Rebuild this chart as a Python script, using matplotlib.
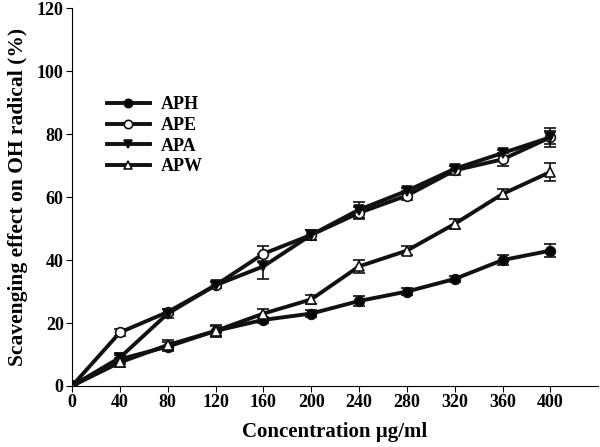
import matplotlib.pyplot as plt
from matplotlib.lines import Line2D

# Data
conc = [0, 40, 80, 120, 160, 200, 240, 280, 320, 360, 400]
aph = [0, 8.5, 12.5, 17.5, 21, 23, 27, 30, 34, 40, 43]
aph_err = [0.5, 1.5, 1.5, 1.5, 1, 1, 1.5, 1, 1, 1.5, 2]
ape = [0, 17, 23.5, 32, 42, 48, 55, 60.5, 68.5, 72, 79]
ape_err = [0.5, 1, 1, 1, 2.5, 1.5, 2, 1.5, 1.5, 2, 2]
apa = [0, 9, 23, 32, 38, 48, 56, 62, 69, 74, 79]
apa_err = [0.5, 1.5, 1.5, 1, 4, 1.5, 2.5, 1, 1, 1, 3]
apw = [0, 7.5, 13, 17.5, 23, 27.5, 38, 43, 51.5, 61, 68]
apw_err = [0.5, 1.5, 1.5, 2, 1.5, 1.5, 2, 1.5, 1.5, 1.5, 3]

plt.rcParams['font.family'] = ['Liberation Serif', 'DejaVu Serif']
plt.rcParams['font.weight'] = 'bold'

fig = plt.figure(figsize=(6, 4.47), dpi=100)
ax = fig.add_axes([0.12, 0.1365, 0.877, 0.845])

series = [
    ('APH', aph, aph_err, 'o', 'black'),
    ('APE', ape, ape_err, 'o', 'white'),
    ('APA', apa, apa_err, 'v', 'black'),
    ('APW', apw, apw_err, '^', 'white'),
]
handles = []
for name, vals, err, mk, fc in series:
    ax.errorbar(conc, vals, yerr=err, color='#111111', lw=2.8,
                marker=mk, markersize=7, markerfacecolor=fc,
                markeredgecolor='#111111', markeredgewidth=1.2,
                elinewidth=1.2, capsize=4, capthick=1.2)
    handles.append(Line2D([], [], color='#111111', lw=2.8, marker=mk,
                          markersize=6, markerfacecolor=fc,
                          markeredgecolor='#111111', markeredgewidth=1.2,
                          label=name))

ax.set_xlim(0, 440)
ax.set_ylim(0, 120)
ax.set_xticks(conc)
ax.set_yticks(range(0, 121, 20))
ax.spines['top'].set_visible(False)
ax.spines['right'].set_visible(False)
ax.tick_params(direction='out', length=4, width=0.8, labelsize=13, pad=2)
for lab in ax.get_xticklabels() + ax.get_yticklabels():
    lab.set_fontweight('bold')

ax.set_xlabel('Concentration µg/ml', fontsize=15, fontweight='bold', labelpad=8)
ax.set_ylabel('Scavenging effect on OH radical (%)', fontsize=15.5,
              fontweight='bold', labelpad=6)

ax.legend(handles=handles, loc='upper left', bbox_to_anchor=(0.035, 0.81),
          frameon=False, handlelength=2.4, labelspacing=0.2,
          prop={'size': 13, 'weight': 'bold'}, handletextpad=0.6)

fig.savefig('out.png', dpi=100)
